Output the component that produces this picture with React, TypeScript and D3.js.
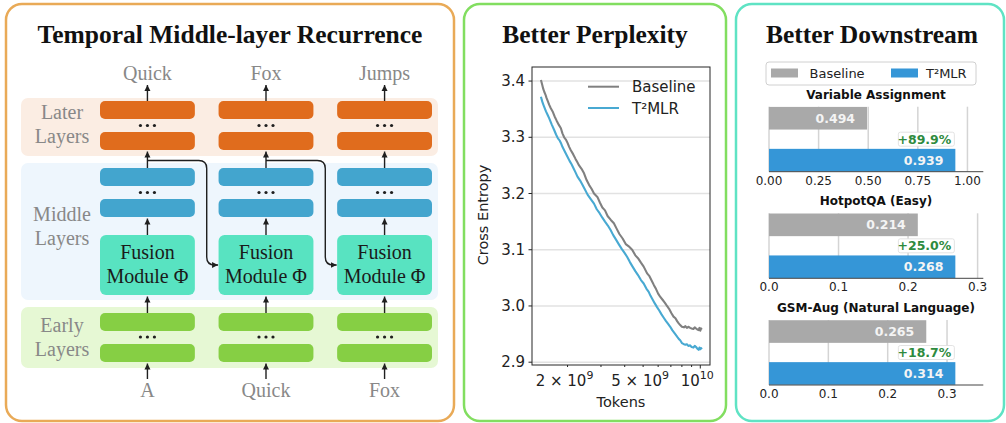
import React from "react";
import * as d3 from "d3";

const W = 1006;
const H = 423;

// ---------- Panel 1 (diagram) ----------
const inputTokens = ["A", "Quick", "Fox"];
const outputTokens = ["Quick", "Fox", "Jumps"];
const groupLabels = [
  ["Later", "Layers"],
  ["Middle", "Layers"],
  ["Early", "Layers"],
];

// ---------- Panel 2 (perplexity) ----------
const baselineTokens = [1.449, 1.47, 1.49, 1.508, 1.53, 1.55, 1.58, 1.6, 1.63, 1.669, 1.71, 1.75, 1.8, 1.845, 1.88, 1.92, 1.96, 2.0, 2.04, 2.081, 2.14, 2.2, 2.25, 2.3, 2.37, 2.443, 2.52, 2.6, 2.68, 2.757, 2.872, 2.96, 3.05, 3.15, 3.25, 3.38, 3.508, 3.62, 3.75, 3.9, 4.05, 4.2, 4.378, 4.55, 4.7, 4.87, 5.035, 5.247, 5.4, 5.55, 5.7, 5.85, 6.0, 6.159, 6.33, 6.5, 6.65, 6.85, 7.05, 7.229, 7.4, 7.55, 7.7, 7.838, 8.0, 8.2, 8.35, 8.5, 8.65, 8.843, 9.0, 9.2, 9.35, 9.5, 9.65, 9.8, 9.9, 10.0, 10.1, 10.18];
const baselineLoss = [3.402, 3.394, 3.386, 3.381, 3.376, 3.37, 3.363, 3.358, 3.352, 3.346, 3.337, 3.33, 3.322, 3.316, 3.307, 3.3, 3.296, 3.29, 3.283, 3.277, 3.27, 3.262, 3.256, 3.25, 3.244, 3.236, 3.224, 3.215, 3.208, 3.2, 3.194, 3.184, 3.175, 3.17, 3.16, 3.153, 3.147, 3.138, 3.128, 3.12, 3.11, 3.106, 3.1, 3.09, 3.085, 3.077, 3.07, 3.058, 3.053, 3.045, 3.037, 3.03, 3.022, 3.016, 3.011, 3.006, 3.001, 2.995, 2.987, 2.981, 2.978, 2.973, 2.969, 2.966, 2.963, 2.962, 2.964, 2.961, 2.963, 2.961, 2.96, 2.959, 2.962, 2.96, 2.958, 2.957, 2.961, 2.956, 2.96, 2.958];
const t2Tokens = [1.449, 1.465, 1.48, 1.5, 1.52, 1.54, 1.57, 1.6, 1.65, 1.701, 1.74, 1.78, 1.82, 1.845, 1.88, 1.92, 1.98, 2.05, 2.1, 2.15, 2.2, 2.256, 2.33, 2.4, 2.47, 2.55, 2.65, 2.757, 2.85, 2.95, 3.05, 3.15, 3.26, 3.371, 3.48, 3.6, 3.72, 3.85, 4.0, 4.123, 4.26, 4.4, 4.55, 4.7, 4.87, 5.035, 5.2, 5.35, 5.47, 5.6, 5.75, 5.919, 6.08, 6.25, 6.42, 6.6, 6.77, 6.947, 7.12, 7.3, 7.45, 7.6, 7.72, 7.838, 8.0, 8.2, 8.35, 8.5, 8.65, 8.843, 9.0, 9.2, 9.35, 9.5, 9.65, 9.8, 9.9, 10.0, 10.1, 10.18];
const t2Loss = [3.372, 3.366, 3.361, 3.356, 3.351, 3.346, 3.34, 3.334, 3.323, 3.313, 3.305, 3.298, 3.294, 3.29, 3.283, 3.277, 3.268, 3.258, 3.252, 3.245, 3.238, 3.23, 3.223, 3.215, 3.207, 3.198, 3.19, 3.182, 3.172, 3.165, 3.157, 3.15, 3.143, 3.135, 3.126, 3.118, 3.11, 3.102, 3.094, 3.087, 3.078, 3.07, 3.062, 3.055, 3.046, 3.04, 3.031, 3.025, 3.018, 3.012, 3.005, 2.998, 2.992, 2.985, 2.979, 2.973, 2.968, 2.963, 2.957, 2.952, 2.948, 2.944, 2.941, 2.939, 2.934, 2.932, 2.931, 2.932, 2.929, 2.93, 2.927, 2.926, 2.929, 2.927, 2.924, 2.922, 2.926, 2.923, 2.925, 2.923];
const yTicks = [2.9, 3.0, 3.1, 3.2, 3.3, 3.4];
const xMinorTicks = [2, 3, 4, 5, 6, 7, 8, 9];
const xMajorTicks = [10];

// ---------- Panel 3 (downstream) ----------
const seriesNames = ["Baseline", "T²MLR"];
const taskNames = ["Variable Assignment", "HotpotQA (Easy)", "GSM-Aug (Natural Language)"];
const baselineScores = [0.494, 0.214, 0.265];
const t2Scores = [0.939, 0.268, 0.314];
const gainLabels = ["+89.9%", "+25.0%", "+18.7%"];
const taskTicks = [
  [0, 0.25, 0.5, 0.75, 1.0],
  [0, 0.1, 0.2, 0.3],
  [0, 0.1, 0.2, 0.3],
];
const taskTickFormats = [".2f", ".1f", ".1f"];

const SERIF = "'Liberation Serif', 'Times New Roman', serif";
const SANS = "'DejaVu Sans', sans-serif";

function Arrow({ x, y1, y2 }: { x: number; y1: number; y2: number }) {
  return <line x1={x} y1={y1} x2={x} y2={y2 + 1} stroke="#1f1f1f" strokeWidth={1.4} markerEnd="url(#ah)" />;
}

function Dots({ x, y }: { x: number; y: number }) {
  return (
    <g fill="#1f1f1f">
      {[-7, 0, 7].map((d) => (
        <circle key={d} cx={x + d} cy={y} r={1.6} />
      ))}
    </g>
  );
}

function Diagram() {
  const col = d3.scaleBand<number>().domain([0, 1, 2]).range([100, 432]).paddingInner(0.2);
  const bw = col.bandwidth();
  const groups = [
    { band: [98, 156], fill: "#FBEDE3", bars: [[101, 119], [132, 150]], dots: 125.5, color: "#E06C1D" },
    { band: [163, 300], fill: "#EEF6FD", bars: [[168, 186], [199, 217]], dots: 192.5, color: "#43A5CE" },
    { band: [307, 368], fill: "#E6F8D4", bars: [[313, 331], [344, 362]], dots: 337, color: "#86CF44" },
  ];
  const labelY = [[119, 143], [221, 245], [332, 356]];
  return (
    <g>
      <rect x={6} y={4} width={448} height={417} rx={16} fill="#fff" stroke="#E9AA57" strokeWidth={2.5} />
      <text x={230} y={43} textAnchor="middle" fontFamily={SERIF} fontWeight="bold" fontSize={25.5} fill="#111">
        Temporal Middle-layer Recurrence
      </text>
      {groups.map((g, gi) => (
        <g key={gi}>
          <rect x={21} y={g.band[0]} width={417} height={g.band[1] - g.band[0]} rx={7} fill={g.fill} />
          {groupLabels[gi].map((t, li) => (
            <text key={li} x={62} y={labelY[gi][li]} textAnchor="middle" fontFamily={SERIF} fontSize={20} fill="#888">
              {t}
            </text>
          ))}
          {[0, 1, 2].map((c) => (
            <g key={c}>
              {g.bars.map((b, bi) => (
                <rect key={bi} x={col(c)} y={b[0]} width={bw} height={b[1] - b[0]} rx={5} fill={g.color} />
              ))}
              <Dots x={col(c)! + bw / 2} y={g.dots} />
            </g>
          ))}
        </g>
      ))}
      {[0, 1, 2].map((c) => {
        const cx = col(c)! + bw / 2;
        return (
          <g key={c}>
            <rect x={col(c)} y={235} width={bw} height={60} rx={6} fill="#58E3C1" />
            <text x={cx} y={259} textAnchor="middle" fontFamily={SERIF} fontSize={20} fill="#1a1a1a">Fusion</text>
            <text x={cx} y={283} textAnchor="middle" fontFamily={SERIF} fontSize={20} fill="#1a1a1a">Module Φ</text>
            <Arrow x={cx} y1={379} y2={362.5} />
            <Arrow x={cx} y1={313} y2={295.5} />
            <Arrow x={cx} y1={235} y2={217.5} />
            <Arrow x={cx} y1={168} y2={150.5} />
            <Arrow x={cx} y1={101} y2={84} />
            <text x={cx} y={80} textAnchor="middle" fontFamily={SERIF} fontSize={20} fill="#888">{outputTokens[c]}</text>
            <text x={cx} y={397} textAnchor="middle" fontFamily={SERIF} fontSize={20} fill="#888">{inputTokens[c]}</text>
          </g>
        );
      })}
      {[0, 1].map((c) => {
        const cx = col(c)! + bw / 2;
        const xv = col(c)! + bw + (col(c + 1)! - col(c)! - bw) / 2;
        const r = 8;
        const yTop = 160.5;
        const yBot = 265;
        const d = `M${cx},${yTop} H${xv - r} Q${xv},${yTop} ${xv},${yTop + r} V${yBot - r} Q${xv},${yBot} ${xv + r},${yBot} H${col(c + 1)! - 0.5}`;
        return <path key={c} d={d} fill="none" stroke="#1f1f1f" strokeWidth={1.4} markerEnd="url(#ah)" />;
      })}
    </g>
  );
}

function Perplexity() {
  const L = 532, R = 710, T = 67, B = 365;
  const x = d3.scaleLog().domain([1.3, 11.25]).range([L, R]);
  const y = d3.scaleLinear().domain([2.895, 3.425]).range([B, T]);
  const line = d3
    .line<[number, number]>()
    .x((d) => x(d[0]))
    .y((d) => y(d[1]));
  const base = baselineTokens.map((t, i) => [t, baselineLoss[i]] as [number, number]);
  const t2 = t2Tokens.map((t, i) => [t, t2Loss[i]] as [number, number]);
  const xLabels: { v: number; m: string; e: string }[] = [
    { v: 2, m: "2 × 10", e: "9" },
    { v: 5, m: "5 × 10", e: "9" },
    { v: 10, m: "10", e: "10" },
  ];
  return (
    <g fontFamily={SANS}>
      <rect x={464} y={4} width={262} height={417} rx={16} fill="#fff" stroke="#82DE60" strokeWidth={2.5} />
      <text x={595} y={43} textAnchor="middle" fontFamily={SERIF} fontWeight="bold" fontSize={25.5} fill="#111">
        Better Perplexity
      </text>
      <clipPath id="pclip">
        <rect x={L} y={T} width={R - L} height={B - T} />
      </clipPath>
      {yTicks.map((t) => (
        <line key={t} x1={L} x2={R} y1={y(t)} y2={y(t)} stroke="#e2e2e2" strokeWidth={1.6} />
      ))}
      <g clipPath="url(#pclip)" fill="none" strokeWidth={2.1} strokeLinejoin="round">
        <path d={line(base)!} stroke="#808080" />
        <path d={line(t2)!} stroke="#48A9D2" />
      </g>
      <rect x={L} y={T} width={R - L} height={B - T} fill="none" stroke="#262626" strokeWidth={1} />
      {yTicks.map((t) => (
        <g key={t}>
          <line x1={L - 3.5} x2={L} y1={y(t)} y2={y(t)} stroke="#262626" />
          <text x={L - 7} y={y(t) + 5} textAnchor="end" fontSize={15} fill="#222">
            {d3.format(".1f")(t)}
          </text>
        </g>
      ))}
      {xMinorTicks.map((t) => (
        <line key={t} x1={x(t)} x2={x(t)} y1={B} y2={B + 2} stroke="#262626" />
      ))}
      {xMajorTicks.map((t) => (
        <line key={t} x1={x(t)} x2={x(t)} y1={B} y2={B + 3.5} stroke="#262626" />
      ))}
      {xLabels.map((l) => (
        <text key={l.v} x={x(l.v) - 3} y={386} textAnchor="middle" fontSize={15} fill="#222">
          {l.m}
          <tspan fontSize={11} dy={-7}>{l.e}</tspan>
        </text>
      ))}
      <text x={621} y={407} textAnchor="middle" fontSize={14.5} fill="#222">Tokens</text>
      <text transform="translate(488,215) rotate(-90)" textAnchor="middle" fontSize={14.5} fill="#222">
        Cross Entropy
      </text>
      <line x1={588} x2={619} y1={86.7} y2={86.7} stroke="#808080" strokeWidth={2} />
      <text x={632} y={92} fontSize={15} fill="#222">{seriesNames[0]}</text>
      <line x1={588} x2={619} y1={108} y2={108} stroke="#48A9D2" strokeWidth={2} />
      <text x={632} y={113.5} fontSize={15} fill="#222">{seriesNames[1]}</text>
    </g>
  );
}

function Downstream() {
  const L = 769, R = 983.3;
  const tops = [106.7, 213.3, 320];
  const h = 65;
  const colors = ["#A9A9A9", "#3596D7"];
  return (
    <g fontFamily={SANS}>
      <rect x={736} y={4} width={268} height={417} rx={16} fill="#fff" stroke="#5FE3C4" strokeWidth={2.5} />
      <text x={872} y={43} textAnchor="middle" fontFamily={SERIF} fontWeight="bold" fontSize={25.5} fill="#111">
        Better Downstream
      </text>
      <rect x={766} y={62} width={210} height={23} rx={3} fill="#fff" stroke="#d0d0d0" strokeWidth={1} />
      <rect x={771} y={68.5} width={27} height={9} fill={colors[0]} />
      <text x={809.5} y={78} fontSize={13} fill="#222">{seriesNames[0]}</text>
      <rect x={891} y={68.5} width={27} height={9} fill={colors[1]} />
      <text x={926} y={78} fontSize={13} fill="#222">{seriesNames[1]}</text>
      {taskNames.map((name, i) => {
        const top = tops[i];
        const bottom = top + h;
        const vals = [baselineScores[i], t2Scores[i]];
        const x = d3.scaleLinear().domain([0, t2Scores[i] * 1.15]).range([L, R]);
        const yb = d3.scaleBand<string>().domain(seriesNames).range([top, bottom]).paddingInner(0.46).paddingOuter(0.005);
        const fmt = d3.format(taskTickFormats[i]);
        const bx = x(vals[1]);
        return (
          <g key={name}>
            <text x={876} y={top - 8} textAnchor="middle" fontWeight="bold" fontSize={12} fill="#111">{name}</text>
            {taskTicks[i].map((t) => (
              <line key={t} x1={x(t)} x2={x(t)} y1={top} y2={bottom} stroke="#d4d4d4" strokeWidth={1.5} />
            ))}
            {seriesNames.map((s, si) => (
              <g key={s}>
                <rect x={x(0)} y={yb(s)} width={x(vals[si]) - x(0)} height={yb.bandwidth()} fill={colors[si]} />
                <text
                  x={x(vals[si]) - 12}
                  y={yb(s)! + yb.bandwidth() / 2 + 4.5}
                  textAnchor="end"
                  fontWeight="bold"
                  fontSize={12.5}
                  fill="#f4f4f4"
                >
                  {d3.format(".3f")(vals[si])}
                </text>
              </g>
            ))}
            <rect x={bx - 57} y={(yb(seriesNames[0])! + yb.bandwidth() + yb(seriesNames[1])!) / 2 - 7} width={56} height={14} rx={2} fill="#fff" stroke="#dcdcdc" strokeWidth={0.8} />
            <text x={bx - 4} y={(yb(seriesNames[0])! + yb.bandwidth() + yb(seriesNames[1])!) / 2 + 4.5} textAnchor="end" fontWeight="bold" fontSize={12.5} fill="#2E8B3E">
              {gainLabels[i]}
            </text>
            <line x1={L} x2={R} y1={bottom} y2={bottom} stroke="#444" strokeWidth={1} />
            {taskTicks[i].map((t) => (
              <text key={t} x={x(t)} y={bottom + 13} textAnchor="middle" fontSize={12} fill="#222">{fmt(t)}</text>
            ))}
          </g>
        );
      })}
    </g>
  );
}

export default function App() {
  return (
    <svg width={W} height={H} viewBox={`0 0 ${W} ${H}`} style={{ position: "absolute", left: 0, top: 0, background: "#fff" }}>
      <defs>
        <marker id="ah" viewBox="0 0 10 10" refX={10} refY={5} markerWidth={6} markerHeight={7} markerUnits="userSpaceOnUse" orient="auto">
          <path d="M0,0 L10,5 L0,10 z" fill="#1f1f1f" />
        </marker>
      </defs>
      <rect width={W} height={H} fill="#fff" />
      <Diagram />
      <Perplexity />
      <Downstream />
    </svg>
  );
}
